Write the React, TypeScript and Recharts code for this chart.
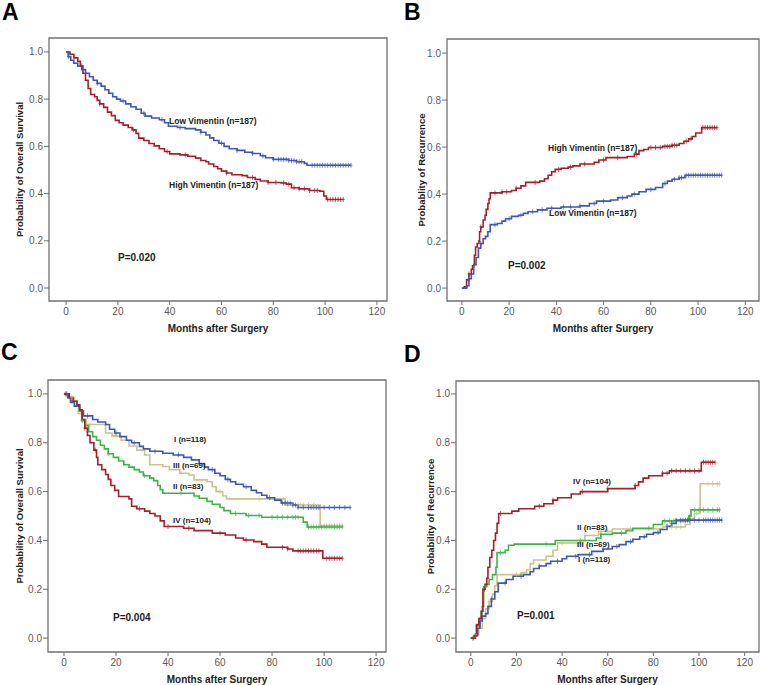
import React from 'react';
import { ComposedChart, Line, Scatter, XAxis, YAxis, ReferenceArea } from 'recharts';

type Pt = [number, number];

const xTicks = [0, 20, 40, 60, 80, 100, 120];
const yTicks = [0, 0.2, 0.4, 0.6, 0.8, 1.0];

// A: overall survival by vimentin
const aHigh: Pt[] = [[0,1],[1.5,0.99],[3,0.975],[4.5,0.96],[5.5,0.94],[6.5,0.91],[7.5,0.88],[8.5,0.845],[9.5,0.82],[11,0.81],[12,0.795],[13,0.78],[14.5,0.765],[16,0.745],[17.5,0.73],[19,0.71],[20.5,0.7],[22,0.69],[24,0.68],[25.5,0.67],[27,0.655],[28,0.635],[30,0.625],[32,0.612],[34,0.602],[36,0.59],[38,0.578],[40,0.568],[44,0.564],[47,0.558],[50,0.55],[52,0.54],[54,0.535],[55,0.525],[57,0.515],[58.5,0.505],[60,0.495],[62,0.487],[64,0.48],[68,0.476],[70,0.468],[73,0.46],[75,0.453],[78,0.447],[83,0.445],[85,0.44],[87,0.425],[90,0.42],[94,0.413],[98,0.41],[99.5,0.39],[100.5,0.375],[107,0.375]];
const aLow: Pt[] = [[0,1],[0.8,0.98],[1.8,0.965],[3,0.952],[4.5,0.94],[6,0.925],[7.5,0.91],[9,0.895],[10.5,0.88],[12,0.867],[13.5,0.855],[15,0.84],[16.5,0.825],[18,0.81],[19.5,0.8],[21,0.792],[23,0.78],[25,0.768],[27,0.757],[29,0.74],[30.5,0.728],[33,0.72],[36,0.713],[38,0.7],[39.5,0.685],[43,0.68],[46,0.675],[50,0.67],[52,0.66],[54,0.648],[55.5,0.636],[57,0.625],[59,0.613],[61,0.6],[63,0.59],[66,0.583],[69,0.575],[72,0.57],[75,0.56],[77,0.552],[80,0.545],[86,0.54],[89,0.535],[92,0.528],[93,0.52],[110,0.52]];
const aHighCens = [6, 13, 26, 39, 46, 62, 72, 78, 81, 84, 86, 88, 90, 92, 94, 96, 97, 101, 102, 103, 104, 105, 106, 107];
const aLowCens = [1, 12, 22, 30, 37, 44, 52, 60, 66, 72, 76, 80, 82, 83, 84, 85, 86, 87, 88, 89, 90, 91, 95, 96, 97, 98, 99, 100, 101, 102, 103, 104, 105, 106, 107, 108, 109, 110];

// B: recurrence by vimentin
const bHigh: Pt[] = [[0,0],[1,0.005],[2,0.035],[3,0.06],[4,0.08],[4.5,0.095],[5.3,0.14],[5.8,0.175],[6.5,0.19],[7.2,0.2],[7.5,0.24],[8,0.26],[9,0.29],[9.8,0.31],[10.3,0.335],[11,0.36],[11.5,0.38],[12,0.405],[17,0.41],[21,0.415],[23,0.425],[25,0.435],[27,0.45],[33,0.455],[35,0.465],[36.5,0.48],[38,0.495],[39.5,0.505],[42,0.51],[45,0.515],[47,0.52],[50,0.528],[56,0.535],[58,0.545],[61,0.555],[70,0.56],[73,0.57],[75,0.585],[77,0.59],[79,0.598],[85,0.603],[89,0.608],[92,0.615],[94,0.625],[96,0.635],[97.5,0.645],[99,0.66],[101.5,0.683],[108,0.683]];
const bLow: Pt[] = [[0,0],[2,0.01],[3,0.04],[4,0.06],[5,0.1],[6,0.13],[7,0.17],[8,0.19],[9,0.21],[10,0.22],[11,0.24],[12,0.27],[15,0.275],[17,0.285],[18.5,0.295],[21,0.305],[24,0.31],[26,0.318],[28,0.325],[32,0.333],[36,0.34],[42,0.345],[50,0.35],[54,0.36],[57,0.37],[63,0.375],[66,0.385],[70,0.392],[72,0.4],[75,0.41],[78,0.42],[82,0.428],[85,0.445],[87,0.455],[89,0.463],[92,0.47],[94.5,0.48],[110,0.48]];
const bHighCens = [3, 8, 14, 17, 19, 23, 31, 41, 46, 52, 60, 66, 74, 80, 82, 84, 86, 87, 88, 89, 90, 91, 95, 97, 102, 103, 104, 105, 106, 107, 108];
const bLowCens = [3, 8, 14, 20, 25, 30, 34, 38, 43, 46, 50, 56, 60, 68, 73, 80, 86, 90, 92, 93, 95, 96, 97, 98, 99, 100, 101, 102, 103, 104, 105, 106, 107, 108, 109, 110];

// C: overall survival by stage
const cIV: Pt[] = [[0,1],[2,0.985],[3.5,0.97],[5,0.955],[6,0.935],[7,0.895],[8,0.86],[9,0.83],[10,0.8],[11.5,0.77],[12.5,0.74],[13,0.71],[14.5,0.69],[16,0.67],[17,0.65],[18,0.625],[19.5,0.605],[21,0.58],[25,0.57],[26,0.54],[28,0.53],[31,0.52],[33,0.51],[35,0.5],[37,0.48],[38.5,0.457],[46,0.45],[50,0.44],[57,0.43],[62,0.422],[66,0.41],[69,0.402],[73,0.395],[76,0.385],[78,0.372],[86,0.365],[88,0.357],[99.5,0.327],[107,0.327]];
const cI: Pt[] = [[0,1],[1.5,0.985],[2.5,0.965],[4,0.95],[6,0.93],[7.5,0.91],[11,0.895],[13,0.885],[16,0.875],[17.5,0.855],[19.5,0.84],[21.5,0.825],[24,0.81],[26,0.8],[29,0.785],[30.5,0.775],[33,0.765],[38,0.757],[42,0.75],[46,0.74],[49,0.73],[52,0.715],[54,0.7],[55.5,0.69],[58,0.675],[60,0.665],[62,0.65],[64,0.64],[66,0.63],[69,0.62],[72,0.605],[74,0.595],[76,0.585],[78,0.575],[81,0.565],[83.5,0.553],[88,0.545],[90,0.535],[110,0.535]];
const cIII: Pt[] = [[0,1],[2,0.985],[4,0.95],[5.5,0.92],[7,0.895],[8.5,0.875],[16,0.84],[18.5,0.827],[22,0.81],[25,0.787],[28,0.77],[31,0.75],[33,0.71],[38,0.703],[40.5,0.69],[44.5,0.675],[48,0.668],[50,0.648],[55,0.64],[57,0.62],[58.5,0.6],[61,0.582],[62.5,0.57],[85,0.545],[98.5,0.46],[107,0.46]];
const cII: Pt[] = [[0,1],[1.5,0.985],[3,0.97],[5,0.955],[6,0.935],[6.8,0.89],[8,0.87],[9.5,0.845],[11,0.825],[12.5,0.81],[14,0.79],[15.5,0.775],[17,0.755],[19,0.74],[21,0.725],[23,0.71],[25,0.7],[27,0.69],[29,0.68],[30.5,0.665],[33,0.655],[34.5,0.645],[36,0.625],[37,0.608],[38,0.593],[50,0.582],[52,0.573],[55,0.56],[57,0.548],[60,0.535],[61.5,0.522],[64,0.51],[70,0.502],[76,0.495],[92,0.475],[93.5,0.455],[107,0.455]];
const cIVCens = [0.5, 8, 12, 29, 40, 48, 60, 70, 84, 86, 90, 91, 92, 93, 94, 95, 96, 97, 98, 101, 102, 103, 104, 105, 106, 107];
const cICens = [1, 9, 20, 27, 35, 44, 52, 57, 63, 70, 79, 84, 85, 86, 87, 88, 89, 90, 92, 94, 95, 96, 97, 98, 100, 102, 104, 106, 108, 110];
const cIIICens = [3, 10, 20, 30, 45, 60, 75, 86, 88, 90, 91, 92, 94, 96, 100, 101, 102, 103, 104, 105, 106, 107];
const cIICens = [1, 7, 17, 31, 45, 66, 71, 75, 80, 82, 84, 86, 88, 89, 90, 94, 95, 96, 97, 98, 99, 100, 101, 102, 103, 104, 105, 106, 107];

// D: recurrence by stage
const dIV: Pt[] = [[0,0],[1.5,0.01],[2.5,0.055],[3.5,0.08],[4.5,0.11],[5.3,0.2],[6.2,0.22],[7,0.245],[7.5,0.29],[8.3,0.33],[9.2,0.36],[10,0.4],[10.8,0.43],[11.5,0.47],[12.2,0.51],[18,0.52],[21,0.53],[28,0.54],[32,0.55],[36,0.565],[38,0.575],[44,0.59],[48,0.6],[60,0.612],[72,0.625],[73.5,0.64],[75.5,0.655],[78,0.665],[84,0.675],[87,0.685],[101,0.72],[107,0.72]];
const dII: Pt[] = [[0,0],[1.5,0.01],[2.5,0.05],[4,0.08],[5,0.13],[5.6,0.21],[7,0.22],[8,0.24],[9.5,0.26],[11,0.29],[11.5,0.35],[15,0.36],[16.5,0.38],[19,0.385],[37,0.4],[55,0.41],[57,0.425],[62,0.43],[68,0.44],[71,0.45],[80,0.465],[84,0.48],[95.5,0.5],[96.5,0.525],[109,0.525]];
const dIII: Pt[] = [[0,0],[2,0.015],[3.5,0.04],[5,0.08],[6.5,0.12],[8,0.15],[9.5,0.18],[10.5,0.215],[11.5,0.26],[22,0.268],[24.5,0.28],[26,0.305],[27.5,0.32],[33,0.335],[36,0.36],[38,0.39],[48,0.4],[50,0.42],[56,0.437],[62,0.447],[84,0.455],[94,0.465],[96,0.49],[98,0.51],[100.5,0.632],[109,0.632]];
const dI: Pt[] = [[0,0],[2,0.01],[3,0.04],[4,0.07],[5,0.09],[6.5,0.1],[7.5,0.13],[9,0.16],[10.5,0.19],[12,0.225],[15.5,0.24],[18.5,0.253],[23,0.26],[26,0.272],[27.5,0.285],[30,0.295],[33,0.305],[35,0.315],[40,0.325],[42,0.335],[47,0.342],[53,0.355],[58,0.365],[62,0.375],[65,0.383],[68,0.395],[71,0.405],[74,0.415],[77,0.425],[80,0.432],[83,0.445],[86,0.458],[88,0.47],[90,0.483],[110,0.483]];
const dIVCens = [1, 6, 13, 30, 36, 49, 60, 72, 84, 86, 88, 90, 92, 94, 96, 98, 100, 102, 103, 104, 105, 106, 107];
const dIICens = [1, 6, 13, 33, 48, 57, 66, 78, 85, 87, 89, 90, 92, 94, 96, 98, 100, 102, 104, 106, 108, 109];
const dIIICens = [2, 8, 20, 40, 50, 60, 70, 80, 86, 88, 90, 92, 99, 104, 106, 108, 109];
const dICens = [2, 9, 15, 22, 30, 38, 46, 52, 58, 64, 70, 76, 82, 86, 88, 90, 92, 93, 94, 95, 96, 98, 100, 102, 103, 104, 105, 106, 107, 108, 109, 110];

const RED = '#A3202A';
const BLUE = '#3F57B3';
const GREEN = '#3DB449';
const TAN = '#CDC18D';
const FONT = '"Liberation Sans", Arial, sans-serif';

function rows(pts: Pt[]) {
  return pts.map(([t, s]) => ({ t, s }));
}

function stepAt(pts: Pt[], t: number) {
  let v = pts[0][1];
  for (const [x, s] of pts) if (x <= t) v = s;
  return v;
}

function censRows(pts: Pt[], times: number[]) {
  return times.map((t) => ({ t, s: stepAt(pts, t) }));
}

type Series = { pts: Pt[]; cens: number[]; color: string };

const tickMark = (color: string) => (p: any) => {
  const { cx, cy } = p;
  return (
    <path d={`M${cx},${cy - 2.5}V${cy + 2.5}M${cx - 1.5},${cy}H${cx + 1.5}`} stroke={color} strokeWidth={1} strokeOpacity={0.7} />
  );
};

function Panel(props: {
  left: number; top: number; width: number; height: number;
  mTop: number; mRight: number; yw: number; xh: number;
  xDom: [number, number]; yDom: [number, number];
  yLabel: string; yOff: number; xOff: number; series: Series[];
}) {
  const p = props;
  return (
    <div style={{ position: 'absolute', left: p.left, top: p.top }}>
      <ComposedChart width={p.width} height={p.height} margin={{ top: p.mTop, right: p.mRight, left: 0, bottom: 0 }}>
        <XAxis
          dataKey="t" type="number" domain={p.xDom} ticks={xTicks} allowDataOverflow
          height={p.xh} axisLine={false} tickSize={4} tickMargin={3}
          tickLine={{ stroke: '#6e6e6e' }}
          tick={{ fontSize: 10, fill: '#5a5a5a', fontFamily: FONT }}
          label={{ value: 'Months after Surgery', position: 'insideBottom', offset: p.xOff, style: { fontSize: 10, fontWeight: 'bold', fill: '#222', fontFamily: FONT } }}
        />
        <YAxis
          type="number" domain={p.yDom} ticks={yTicks} allowDataOverflow
          width={p.yw} axisLine={false} tickSize={5} tickMargin={1}
          tickLine={{ stroke: '#6e6e6e' }}
          tickFormatter={(v: number) => v.toFixed(1)}
          tick={{ fontSize: 10, fill: '#5a5a5a', fontFamily: FONT }}
          label={{ value: p.yLabel, angle: -90, position: 'insideLeft', offset: p.yOff, style: { textAnchor: 'middle', fontSize: 9.5, fontWeight: 'bold', fill: '#222', fontFamily: FONT } }}
        />
        <ReferenceArea x1={p.xDom[0]} x2={p.xDom[1]} y1={p.yDom[0]} y2={p.yDom[1]} fill="none" stroke="#707070" strokeWidth={1.3} />
        {p.series.map((s, i) => (
          <Line key={'l' + i} data={rows(s.pts)} dataKey="s" type="stepAfter" stroke={s.color} strokeWidth={1.6} dot={false} activeDot={false} isAnimationActive={false} />
        ))}
        {p.series.map((s, i) => (
          <Scatter key={'c' + i} data={censRows(s.pts, s.cens)} dataKey="s" shape={tickMark(s.color)} isAnimationActive={false} />
        ))}
      </ComposedChart>
    </div>
  );
}

const txt = (left: number, top: number, text: string, size = 8.5): React.ReactNode => (
  <div key={text + left + top} style={{ position: 'absolute', left, top, fontSize: size, fontWeight: 'bold', fontFamily: FONT, color: '#222', lineHeight: 1, whiteSpace: 'nowrap' }}>{text}</div>
);

const letter = (left: number, top: number, text: string) => (
  <div style={{ position: 'absolute', left, top, fontSize: 23, fontWeight: 'bold', fontFamily: FONT, color: '#000', lineHeight: 1 }}>{text}</div>
);

export default function App() {
  return (
    <div style={{ position: 'absolute', left: 0, top: 0, width: 761, height: 685, overflow: 'hidden', background: '#fff' }}>
      <Panel left={0} top={0} width={389} height={341} mTop={38} mRight={2} yw={49} xh={40}
        xDom={[-6.6, 123.9]} yDom={[-0.055, 1.059]} yLabel="Probability of Overall Survival" yOff={20} xOff={9.5}
        series={[{ pts: aHigh, cens: aHighCens, color: RED }, { pts: aLow, cens: aLowCens, color: BLUE }]} />
      <Panel left={400} top={0} width={361} height={341} mTop={39} mRight={2} yw={47} xh={40}
        xDom={[-6.3, 125.8]} yDom={[-0.055, 1.06]} yLabel="Probablity of Recurrence" yOff={22} xOff={9.5}
        series={[{ pts: bHigh, cens: bHighCens, color: RED }, { pts: bLow, cens: bLowCens, color: BLUE }]} />
      <Panel left={0} top={340} width={388} height={345} mTop={40} mRight={2} yw={48} xh={33}
        xDom={[-6.15, 123.8]} yDom={[-0.057, 1.057]} yLabel="Probability of Overall Survival" yOff={20} xOff={2.5}
        series={[{ pts: cIII, cens: cIIICens, color: TAN }, { pts: cII, cens: cIICens, color: GREEN }, { pts: cI, cens: cICens, color: BLUE }, { pts: cIV, cens: cIVCens, color: RED }]} />
      <Panel left={400} top={340} width={361} height={345} mTop={41} mRight={2} yw={56} xh={33}
        xDom={[-6.5, 126.3]} yDom={[-0.057, 1.053]} yLabel="Probability of Recurrence" yOff={31} xOff={2.5}
        series={[{ pts: dIII, cens: dIIICens, color: TAN }, { pts: dII, cens: dIICens, color: GREEN }, { pts: dI, cens: dICens, color: BLUE }, { pts: dIV, cens: dIVCens, color: RED }]} />

      {letter(2, 1, 'A')}
      {letter(404, 1, 'B')}
      {letter(1, 341, 'C')}
      {letter(404, 343, 'D')}

      {txt(169, 117, 'Low Vimentin (n=187)')}
      {txt(169, 181, 'High Vimentin (n=187)')}
      {txt(118, 253, 'P=0.020', 10)}

      {txt(548, 144, 'High Vimentin (n=187)')}
      {txt(549, 209, 'Low Vimentin (n=187)')}
      {txt(508, 261, 'P=0.002', 10)}

      {txt(174, 436, 'I (n=118)', 8)}
      {txt(173, 462, 'III (n=69)', 8)}
      {txt(173, 483, 'II (n=83)', 8)}
      {txt(173, 517, 'IV (n=104)', 8)}
      {txt(113, 613, 'P=0.004', 10)}

      {txt(573, 478, 'IV (n=104)', 8)}
      {txt(577, 524, 'II (n=83)', 8)}
      {txt(577, 541, 'III (n=69)', 8)}
      {txt(578, 556, 'I (n=118)', 8)}
      {txt(517, 611, 'P=0.001', 10)}
    </div>
  );
}
